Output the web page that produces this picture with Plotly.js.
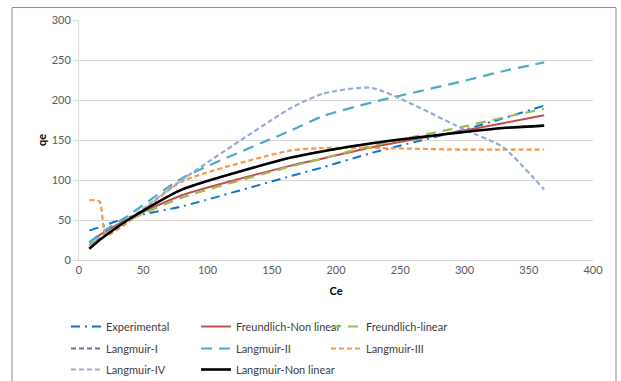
<!DOCTYPE html>
<html>
<head>
<meta charset="utf-8">
<script src="https://cdn.plot.ly/plotly-3.0.1.min.js"></script>
<style>html,body{margin:0;padding:0;background:#fff;}#chart{width:621px;height:381px;}</style>
</head>
<body>
<div id="chart"></div>
<script>
// Shared Ce values (x)
const ce = [8, 16, 21, 38, 80, 165, 190, 228, 300, 330, 362];

// qe series
const experimental   = [37, 41, 44, 53, 67, 105, 116, 134, 163, 177, 193];
const freundlichNL   = [22, 31, 36, 51, 81, 118, 127, 141, 162, 171, 181];
const freundlichLin  = [18, 27, 33, 49, 78, 117, 127, 143, 167, 178, 189];
const langmuirI      = [14, 25, 31, 50, 88, 128, 136, 146, 160, 165, 168];
const langmuirII     = [22, 32, 38, 55, 102, 162, 180, 197, 224, 236, 247];
const langmuirIII    = [75, 73, 31, 47, 98, 137, 140, 140, 138, 138, 138];
const langmuirIV     = [20, 28, 33, 50, 100, 190, 208, 215, 163, 141, 88];
const langmuirNL     = [14, 25, 31, 50, 88, 128, 136, 146, 160, 165, 168];

const names = ["Experimental", "Freundlich-Non linear", "Freundlich-linear",
               "Langmuir-I", "Langmuir-II", "Langmuir-III", "Langmuir-IV", "Langmuir-Non linear"];

function tr(y, name, color, dash, width, legend, lw) {
  const t = {
    x: ce, y: y, name: name, type: 'scatter', mode: 'lines',
    line: {color: color, dash: dash, width: width, shape: 'spline', smoothing: 0.6},
    legend: legend, hoverinfo: 'skip'
  };
  if (lw) t.legendwidth = lw;
  return t;
}

const data = [
  tr(experimental,  names[0], '#0B77CF', '9px,5px,2px,5px', 2, 'legend'),
  tr(freundlichNL,  names[1], '#C0504D', 'solid', 2, 'legend'),
  tr(freundlichLin, names[2], '#9BBB59', '10px,7px', 2.2, 'legend', 130),
  tr(langmuirI,     names[3], '#8064A2', '5px,3px', 2, 'legend2'),
  tr(langmuirII,    names[4], '#4BACC6', '11px,7px', 2.2, 'legend2'),
  tr(langmuirIII,   names[5], '#F79646', '5px,3px', 2.2, 'legend2', 130),
  tr(langmuirIV,    names[6], '#95A9DA', '5px,3px', 2.2, 'legend3'),
  tr(langmuirNL,    names[7], '#000000', 'solid', 2.6, 'legend3', 130)
];

const W = 621, H = 381, pw = 514, ph = 240.5;
const FONT = 'Lato, Open Sans, Liberation Sans, sans-serif';
const legFont = {family: FONT, size: 11, color: '#404040'};
function leg(ytop) {
  return {orientation: 'h', xref: 'container', yref: 'container',
          x: 66 / W, xanchor: 'left', y: 1 - ytop / H, yanchor: 'top',
          entrywidth: 85, entrywidthmode: 'pixels', font: legFont, bgcolor: 'rgba(0,0,0,0)',
          borderwidth: 0, itemclick: false, traceorder: 'normal'};
}

const layout = {
  width: W, height: H,
  margin: {l: 79, r: 28, t: 19.5, b: 121, autoexpand: false},
  paper_bgcolor: '#ffffff', plot_bgcolor: '#ffffff',
  font: {family: FONT, size: 11, color: '#595959'},
  xaxis: {
    range: [0, 400], dtick: 50, tick0: 0, showgrid: false, zeroline: false, automargin: false,
    showline: true, linecolor: '#d9d9d9', linewidth: 1, ticks: '',
    tickfont: {size: 11, color: '#595959'},
    title: {text: 'Ce', font: {size: 11, color: '#000000', weight: 'bold'}, standoff: 12}
  },
  yaxis: {
    range: [0, 300], dtick: 50, tick0: 0, showgrid: true, gridcolor: '#d9d9d9', gridwidth: 1,
    zeroline: false, showline: true, linecolor: '#d9d9d9', linewidth: 1, automargin: false,
    ticks: 'outside', ticklen: 5, tickcolor: '#d9d9d9',
    tickfont: {size: 11, color: '#595959'},
    title: {text: 'qe', font: {size: 11, color: '#000000', weight: 'bold'}, standoff: 2}
  },
  legend: leg(312),
  legend2: leg(334),
  legend3: leg(355),
  showlegend: true,
  shapes: [{
    type: 'rect', xref: 'paper', yref: 'paper', layer: 'below',
    x0: (12 - 79) / pw, x1: (616 - 79) / pw, y0: (260 - 384) / ph, y1: (260 - 7) / ph,
    line: {color: '#8c8c8c', width: 1}, fillcolor: 'rgba(0,0,0,0)'
  }]
};

Plotly.newPlot('chart', data, layout, {displayModeBar: false, staticPlot: true});
</script>
</body>
</html>
